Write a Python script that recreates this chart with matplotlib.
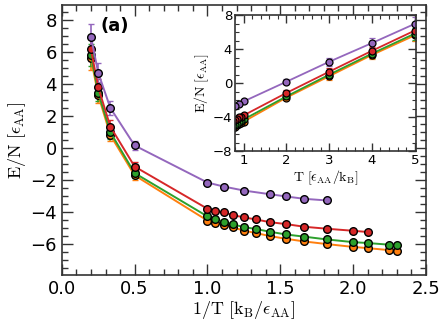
import numpy as np
import matplotlib
matplotlib.use('Agg')
import matplotlib.pyplot as plt
from matplotlib.ticker import MultipleLocator

plt.rcParams['mathtext.fontset'] = 'cm'

# temperatures and energies per particle for each series
T_purple = [5, 4, 3, 2, 1, 0.9, 0.8, 0.7, 0.65, 0.6, 0.55]
E_purple = [6.96, 4.70, 2.50, 0.15, -2.17, -2.42, -2.67, -2.90, -3.04, -3.19, -3.29]
err_purple = [0.8, 0.6, 0.45, 0.3, 0.1, 0.05, 0.05, 0.05, 0.05, 0.05, 0.05]

T_red = [5, 4, 3, 2, 1, 0.95, 0.9, 0.85, 0.8, 0.75, 0.7, 0.65, 0.6, 0.55, 0.5, 0.475]
E_red = [6.17, 3.79, 1.33, -1.17, -3.81, -3.94, -4.04, -4.21, -4.35, -4.48,
         -4.65, -4.77, -4.94, -5.06, -5.19, -5.27]
err_red = [0.7, 0.5, 0.4, 0.3, 0.1] + [0.05] * 11

T_green = [5, 4, 3, 2, 1, 0.95, 0.9, 0.85, 0.8, 0.75, 0.7, 0.65, 0.6, 0.55,
           0.5, 0.475, 0.445, 0.434]
E_green = [5.81, 3.46, 0.98, -1.58, -4.29, -4.46, -4.62, -4.79, -4.96, -5.08,
           -5.25, -5.42, -5.56, -5.73, -5.90, -5.96, -6.06, -6.08]
err_green = [0.7, 0.5, 0.4, 0.3, 0.1] + [0.05] * 13

T_orange = T_green
E_orange = [5.6, 3.3, 0.8, -1.72, -4.55, -4.68, -4.82, -4.98, -5.18, -5.33,
            -5.52, -5.69, -5.86, -6.02, -6.20, -6.28, -6.40, -6.44]
err_orange = [0.7, 0.5, 0.4, 0.3, 0.1] + [0.05] * 13

series = [
    (T_orange, E_orange, err_orange, '#ff7f0e'),
    (T_green, E_green, err_green, '#2ca02c'),
    (T_red, E_red, err_red, '#d62728'),
    (T_purple, E_purple, err_purple, '#9467bd'),
]

fig = plt.figure(figsize=(4.48, 3.28), dpi=100)
ax = fig.add_axes([0.138, 0.162, 0.8125, 0.823])

for T, E, err, c in series:
    invT = 1.0 / np.array(T)
    ax.errorbar(invT, E, yerr=err, color=c, lw=1.4, capsize=2.5, elinewidth=1.2,
                marker='o', ms=5.5, mfc=c, mec='black', mew=1.0)

ax.set_xlim(0, 2.5)
ax.set_ylim(-7.95, 8.95)
ax.xaxis.set_major_locator(MultipleLocator(0.5))
ax.xaxis.set_minor_locator(MultipleLocator(0.1))
ax.yaxis.set_major_locator(MultipleLocator(2))
ax.yaxis.set_minor_locator(MultipleLocator(0.5))
ax.tick_params(which='both', direction='in', top=True, right=True, color='#333333')
ax.tick_params(which='major', length=8, width=1.0, labelsize=13)
ax.tick_params(which='minor', length=4, width=1.0)
for s in ax.spines.values():
    s.set_linewidth(1.2)
    s.set_color('#333333')
ax.set_xlabel(r'$\mathrm{1/T}\ [\mathrm{k_B}/\epsilon_{\mathrm{AA}}]$', fontsize=13, labelpad=1)
ax.set_ylabel(r'$\mathrm{E/N}\ [\epsilon_{\mathrm{AA}}]$', fontsize=13, labelpad=2)
ax.text(0.105, 0.922, '(a)', transform=ax.transAxes, fontsize=13,
        fontweight='bold', va='center', ha='left')

# inset: E/N against T
axin = fig.add_axes([0.5246, 0.5396, 0.404, 0.4146])
for T, E, err, c in series:
    axin.errorbar(T, E, yerr=err, color=c, lw=1.3, capsize=2, elinewidth=1.0,
                  marker='o', ms=5, mfc=c, mec='black', mew=0.9)
axin.set_xlim(0.8, 5.03)
axin.set_ylim(-8, 8)
axin.xaxis.set_major_locator(MultipleLocator(1))
axin.xaxis.set_minor_locator(MultipleLocator(0.2))
axin.yaxis.set_major_locator(MultipleLocator(4))
axin.yaxis.set_minor_locator(MultipleLocator(1))
axin.tick_params(which='both', direction='in', top=True, right=True, color='#333333')
axin.tick_params(which='major', length=6, width=1.0, labelsize=9.5, pad=2)
axin.tick_params(which='minor', length=3, width=0.8)
for s in axin.spines.values():
    s.set_linewidth(1.2)
    s.set_color('#333333')
axin.set_xlabel(r'$\mathrm{T}\ [\epsilon_{\mathrm{AA}}/\mathrm{k_B}]$', fontsize=10, labelpad=1)
axin.set_ylabel(r'$\mathrm{E/N}\ [\epsilon_{\mathrm{AA}}]$', fontsize=10, labelpad=1)

fig.savefig('out.png', dpi=100)
